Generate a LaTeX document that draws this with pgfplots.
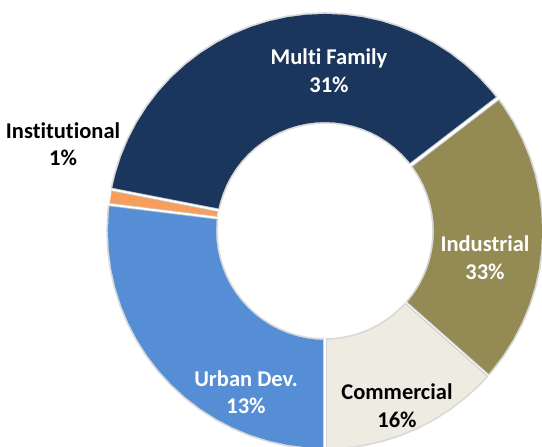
\documentclass[border=0pt]{standalone}
\usepackage{pgfplots}
\usepackage{pgfplotstable}
\pgfplotsset{compat=1.18}
\usepackage{fontspec}
\setmainfont[Ligatures=NoCommon]{Carlito}
\definecolor{cNavy}{RGB}{27,54,93}
\definecolor{cOlive}{RGB}{148,138,84}
\definecolor{cCream}{RGB}{238,236,225}
\definecolor{cBlue}{RGB}{85,142,213}
\definecolor{cOrange}{RGB}{248,158,90}
% slices: angle (deg, math convention), radius of ring centre line
\pgfplotstableread{
a r
169 163
168 163
165 163
160 163
155 163
150 163
145 163
140 163
135 163
130 163
125 163
120 163
115 163
110 163
105 163
100 163
95 163
90 163
85 163
80 163
75 163
70 163
65 163
60 163
55 163
50 163
45 163
40 163
38.5 163
37.5 163
}\multifamily
\pgfplotstableread{
a r
37.5 163
36.5 163
35 163
30 163
25 163
20 163
15 163
10 163
5 163
0 163
-5 163
-10 163
-15 163
-20 163
-25 163
-30 163
-35 163
-40 163
-41.5 163
}\industrial
\pgfplotstableread{
a r
-41.5 163
-42.5 163
-45 163
-50 163
-55 163
-60 163
-65 163
-70 163
-75 163
-80 163
-85 163
-89 163
-90 163
}\commercial
\pgfplotstableread{
a r
-90 163
-91 163
-95 163
-100 163
-105 163
-110 163
-115 163
-120 163
-125 163
-130 163
-135 163
-140 163
-145 163
-150 163
-155 163
-160 163
-165 163
-170 163
-175 163
-180 163
-185 163
-186 163
-187 163
}\urban
\pgfplotstableread{
a r
-187 163
-188 163
-189 163
-190 163
-191 163
}\institutional
\begin{document}
\begin{tikzpicture}
\begin{axis}[x=1bp,y=1bp,xmin=-325,xmax=217,ymin=-216,ymax=231,
  hide axis, scale only axis, clip=true, data cs=polar]
\path (rel axis cs:0,0) rectangle (rel axis cs:1,1);
% soft edge shadows
\addplot[no markers, draw=gray!30, line width=111.5bp, line cap=butt] table[x=a,y=r] {\multifamily};
\addplot[no markers, draw=gray!30, line width=111.5bp, line cap=butt] table[x=a,y=r] {\industrial};
\addplot[no markers, draw=gray!30, line width=111.5bp, line cap=butt] table[x=a,y=r] {\commercial};
\addplot[no markers, draw=gray!30, line width=111.5bp, line cap=butt] table[x=a,y=r] {\urban};
% slices
\addplot[no markers, draw=cNavy, line width=108bp, line cap=butt] table[x=a,y=r] {\multifamily};
\addplot[no markers, draw=cOlive, line width=108bp, line cap=butt] table[x=a,y=r] {\industrial};
\addplot[no markers, draw=cCream, line width=108bp, line cap=butt] table[x=a,y=r] {\commercial};
\addplot[no markers, draw=cBlue, line width=108bp, line cap=butt] table[x=a,y=r] {\urban};
\addplot[no markers, draw=cOrange, line width=108bp, line cap=butt] table[x=a,y=r] {\institutional};
% separators
\addplot[no markers, draw=gray!45, line width=4.5bp] coordinates {(37.5,108) (37.5,218)};
\addplot[no markers, draw=white, line width=2.5bp] coordinates {(37.5,107) (37.5,219)};
\addplot[no markers, draw=gray!45, line width=3bp] coordinates {(-41.5,108) (-41.5,218)};
\addplot[no markers, draw=white, line width=1bp] coordinates {(-41.5,107) (-41.5,219)};
\addplot[no markers, draw=gray!35, line width=4.5bp] coordinates {(-90,108) (-90,218)};
\addplot[no markers, draw=white, line width=2.5bp] coordinates {(-90,107) (-90,219)};
\addplot[no markers, draw=gray!45, line width=3.5bp] coordinates {(-187,108) (-187,218)};
\addplot[no markers, draw=white, line width=1.8bp] coordinates {(-187,107) (-187,219)};
\addplot[no markers, draw=gray!45, line width=3.5bp] coordinates {(-191,108) (-191,218)};
\addplot[no markers, draw=white, line width=1.8bp] coordinates {(-191,107) (-191,219)};
% labels
\begin{scope}[every node/.style={font=\fontsize{22.5bp}{27.5bp}\selectfont\bfseries, align=center}]
\node[text=white] at (axis cs:4,160.5) {Multi Family\\31\%};
\node[text=white] at (axis cs:160,-26.5) {Industrial\\33\%};
\node[text=black] at (axis cs:72,-174.5) {Commercial\\16\%};
\node[text=white] at (axis cs:-79,-161) {Urban Dev.\\13\%};
\node[text=black] at (axis cs:-262,87) {Institutional\\1\%};
\end{scope}
\end{axis}
\end{tikzpicture}
\end{document}
